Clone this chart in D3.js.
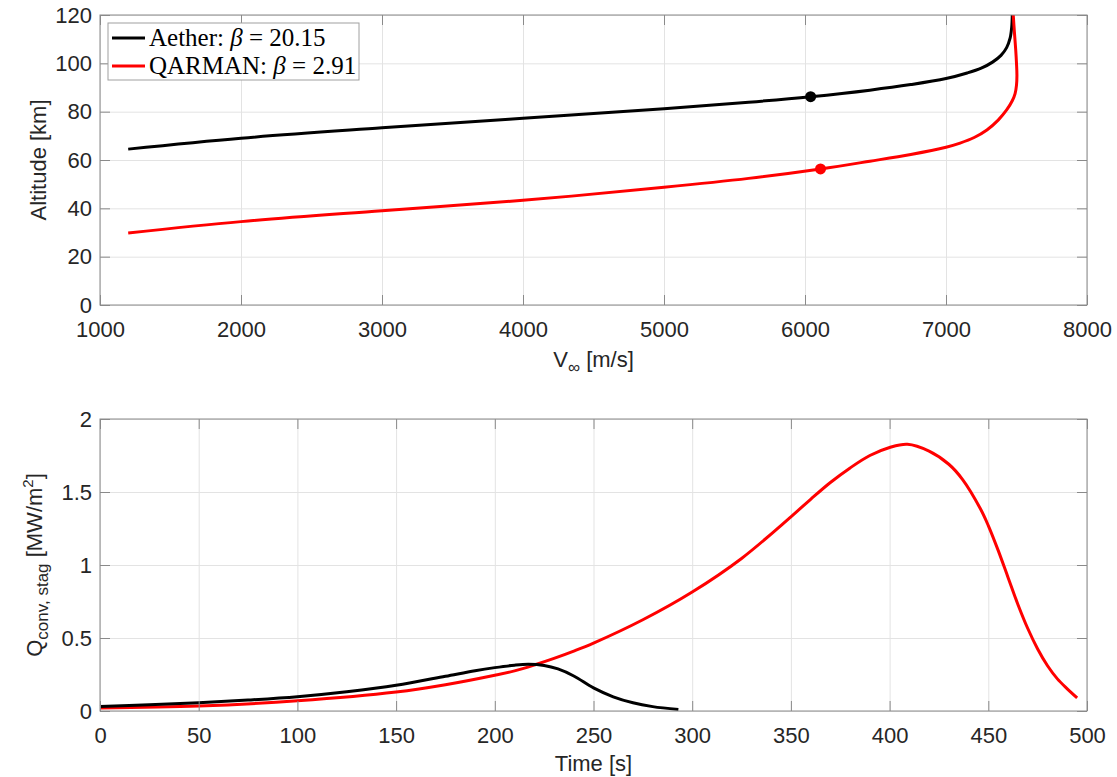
<!DOCTYPE html>
<html>
<head>
<meta charset="utf-8">
<script src="https://cdn.jsdelivr.net/npm/d3@7"></script>
<style>
  body { margin: 0; background: #fff; }
  text { font-family: "Liberation Sans", Arial, sans-serif; }
  .tick text { fill: #262626; font-size: 22px; }
  .grid line { stroke: #e3e3e3; }
  .grid path { display: none; }
  .frame path { display: none; }
  .frame line { stroke: #8a8a8a; }
</style>
</head>
<body>
<div id="chart-area"></div>
<script>
// top panel data: altitude vs velocity
const aetherV = [1200, 2000, 3000, 4000, 5000, 5600, 6040, 6460, 6750, 7000, 7150, 7250, 7330, 7390, 7430, 7455, 7466, 7470];
const aetherAlt = [64.5, 69.0, 73.3, 77.3, 81.2, 83.9, 86.2, 88.9, 91.2, 93.7, 96.0, 98.0, 100.5, 103.3, 106.5, 110.5, 115, 120];
const qarmanV = [1200, 2000, 3000, 4000, 5000, 5600, 6110, 6460, 6750, 7000, 7100, 7200, 7290, 7370, 7430, 7470, 7490, 7500, 7503, 7500, 7494, 7485, 7477];
const qarmanAlt = [29.8, 34.5, 39.0, 43.3, 48.7, 52.4, 56.3, 59.5, 62.3, 65.3, 67.0, 69.3, 72.4, 76.5, 80.7, 84.5, 87.5, 91, 95, 100, 106, 113, 120];
const markers = [
  { v: 6040, alt: 86.2, color: "#000000" },
  { v: 6110, alt: 56.3, color: "#ff0000" },
];

// bottom panel data: stagnation convective heat flux vs time
const aetherT = [0, 25, 50, 75, 100, 125, 150, 175, 190, 200, 210, 217, 225, 232, 240, 250, 260, 270, 280, 293];
const aetherQ = [0.03, 0.042, 0.057, 0.075, 0.098, 0.132, 0.176, 0.238, 0.276, 0.297, 0.314, 0.320, 0.312, 0.288, 0.240, 0.158, 0.097, 0.056, 0.030, 0.01];
const qarmanT = [0, 50, 100, 150, 175, 200, 210, 220, 230, 240, 250, 275, 300, 325, 350, 360, 370, 380, 390, 400, 409, 420, 430, 437, 446, 450, 455, 460, 465, 470, 475, 480, 485, 490, 495];
const qarmanQ = [0.02, 0.034, 0.07, 0.13, 0.18, 0.245, 0.275, 0.315, 0.36, 0.41, 0.465, 0.625, 0.815, 1.045, 1.33, 1.45, 1.565, 1.665, 1.75, 1.805, 1.827, 1.78, 1.69, 1.585, 1.385, 1.27, 1.10, 0.915, 0.73, 0.565, 0.425, 0.31, 0.22, 0.152, 0.09];

const topXTicks = [1000, 2000, 3000, 4000, 5000, 6000, 7000, 8000];
const topYTicks = [0, 20, 40, 60, 80, 100, 120];
const botXTicks = [0, 50, 100, 150, 200, 250, 300, 350, 400, 450, 500];
const botYTicks = [0, 0.5, 1, 1.5, 2];

const legendItems = [
  { name: "Aether: ", beta: "20.15", color: "#000000" },
  { name: "QARMAN: ", beta: "2.91", color: "#ff0000" },
];

const W = 1117, H = 777;
const LEFT = 100, RIGHT = 1087;
const TOP1 = 15, BOT1 = 305;
const TOP2 = 419, BOT2 = 711;

const svg = d3.select("#chart-area").append("svg")
  .attr("width", W)
  .attr("height", H);

function panel(x, y, xTicks, yTicks, top, bottom) {
  const g = svg.append("g");
  // grid
  g.append("g").attr("class", "grid")
    .attr("transform", `translate(0, ${bottom})`)
    .call(d3.axisBottom(x).tickValues(xTicks).tickSize(-(bottom - top)).tickFormat(""));
  g.append("g").attr("class", "grid")
    .attr("transform", `translate(${LEFT}, 0)`)
    .call(d3.axisLeft(y).tickValues(yTicks).tickSize(-(RIGHT - LEFT)).tickFormat(""));
  return g;
}

function frame(g, x, y, xTicks, yTicks, top, bottom) {
  const fmt = (d) => String(d);
  // inward ticks on all four sides, MATLAB style
  const xb = g.append("g").attr("class", "frame")
    .attr("transform", `translate(0, ${bottom})`)
    .call(d3.axisBottom(x).tickValues(xTicks).tickSizeInner(-10).tickSizeOuter(0).tickPadding(16).tickFormat(fmt));
  xb.selectAll(".tick text").attr("dy", "0.71em");
  g.append("g").attr("class", "frame")
    .attr("transform", `translate(0, ${top})`)
    .call(d3.axisTop(x).tickValues(xTicks).tickSizeInner(-10).tickSizeOuter(0).tickFormat(""));
  g.append("g").attr("class", "frame")
    .attr("transform", `translate(${LEFT}, 0)`)
    .call(d3.axisLeft(y).tickValues(yTicks).tickSizeInner(-10).tickSizeOuter(0).tickPadding(8).tickFormat(fmt));
  g.append("g").attr("class", "frame")
    .attr("transform", `translate(${RIGHT}, 0)`)
    .call(d3.axisRight(y).tickValues(yTicks).tickSizeInner(-10).tickSizeOuter(0).tickFormat(""));
  g.append("rect")
    .attr("x", LEFT).attr("y", top)
    .attr("width", RIGHT - LEFT).attr("height", bottom - top)
    .attr("fill", "none")
    .attr("stroke", "#8a8a8a")
    .attr("stroke-width", 1);
}

/******************** top panel ********************/
const x1 = d3.scaleLinear().domain([1000, 8000]).range([LEFT, RIGHT]);
const y1 = d3.scaleLinear().domain([0, 120]).range([BOT1, TOP1]);
const g1 = panel(x1, y1, topXTicks, topYTicks, TOP1, BOT1);

const line1 = d3.line()
  .x((d) => x1(d[0]))
  .y((d) => y1(d[1]))
  .curve(d3.curveCatmullRom.alpha(0.5));

svg.append("clipPath").attr("id", "clip1").append("rect")
  .attr("x", LEFT).attr("y", TOP1).attr("width", RIGHT - LEFT).attr("height", BOT1 - TOP1);

g1.append("path")
  .attr("d", line1(d3.zip(aetherV, aetherAlt)))
  .attr("clip-path", "url(#clip1)")
  .attr("fill", "none").attr("stroke", "#000000").attr("stroke-width", 3);
g1.append("path")
  .attr("d", line1(d3.zip(qarmanV, qarmanAlt)))
  .attr("clip-path", "url(#clip1)")
  .attr("fill", "none").attr("stroke", "#ff0000").attr("stroke-width", 3);

g1.selectAll(".marker").data(markers).join("circle")
  .attr("class", "marker")
  .attr("cx", (d) => x1(d.v))
  .attr("cy", (d) => y1(d.alt))
  .attr("r", 5.5)
  .attr("fill", (d) => d.color);

frame(g1, x1, y1, topXTicks, topYTicks, TOP1, BOT1);

// axis labels
const xLab1 = g1.append("text")
  .attr("x", (LEFT + RIGHT) / 2)
  .attr("y", 367)
  .attr("text-anchor", "middle")
  .attr("font-size", "22px")
  .attr("fill", "#262626");
xLab1.append("tspan").text("V");
xLab1.append("tspan").attr("font-size", "17px").attr("dy", 6).text("∞");
xLab1.append("tspan").attr("dy", -6).text(" [m/s]");

g1.append("text")
  .attr("transform", `translate(46, ${(TOP1 + BOT1) / 2}) rotate(-90)`)
  .attr("text-anchor", "middle")
  .attr("font-size", "22px")
  .attr("fill", "#262626")
  .text("Altitude [km]");

// legend
const leg = g1.append("g");
leg.append("rect")
  .attr("x", 108).attr("y", 23)
  .attr("width", 251).attr("height", 57)
  .attr("fill", "#ffffff")
  .attr("stroke", "#a0a0a0")
  .attr("stroke-width", 1);
legendItems.forEach((d, i) => {
  const yy = 38 + i * 28;
  leg.append("line")
    .attr("x1", 112).attr("x2", 145)
    .attr("y1", yy).attr("y2", yy)
    .attr("stroke", d.color).attr("stroke-width", 3);
  const t = leg.append("text")
    .attr("x", 149).attr("y", yy + 8)
    .style("font-family", "'Liberation Serif', 'DejaVu Serif', serif")
    .attr("font-size", "25px")
    .attr("fill", "#000");
  t.append("tspan").text(d.name);
  t.append("tspan").attr("font-style", "italic").text("β");
  t.append("tspan").text(" = " + d.beta);
});

/******************** bottom panel ********************/
const x2 = d3.scaleLinear().domain([0, 500]).range([LEFT, RIGHT]);
const y2 = d3.scaleLinear().domain([0, 2]).range([BOT2, TOP2]);
const g2 = panel(x2, y2, botXTicks, botYTicks, TOP2, BOT2);

const line2 = d3.line()
  .x((d) => x2(d[0]))
  .y((d) => y2(d[1]))
  .curve(d3.curveCatmullRom.alpha(0.5));

g2.append("path")
  .attr("d", line2(d3.zip(qarmanT, qarmanQ)))
  .attr("fill", "none").attr("stroke", "#ff0000").attr("stroke-width", 3);
g2.append("path")
  .attr("d", line2(d3.zip(aetherT, aetherQ)))
  .attr("fill", "none").attr("stroke", "#000000").attr("stroke-width", 3);

frame(g2, x2, y2, botXTicks, botYTicks, TOP2, BOT2);

g2.append("text")
  .attr("x", (LEFT + RIGHT) / 2)
  .attr("y", 771)
  .attr("text-anchor", "middle")
  .attr("font-size", "22px")
  .attr("fill", "#262626")
  .text("Time [s]");

const yLab2 = g2.append("text")
  .attr("transform", `translate(42, ${(TOP2 + BOT2) / 2}) rotate(-90)`)
  .attr("text-anchor", "middle")
  .attr("font-size", "22px")
  .attr("fill", "#262626");
yLab2.append("tspan").text("Q");
yLab2.append("tspan").attr("font-size", "17px").attr("dy", 6).text("conv, stag");
yLab2.append("tspan").attr("dy", -6).text(" [MW/m");
yLab2.append("tspan").attr("font-size", "15px").attr("dy", -9).text("2");
yLab2.append("tspan").attr("dy", 9).text("]");
</script>
</body>
</html>
